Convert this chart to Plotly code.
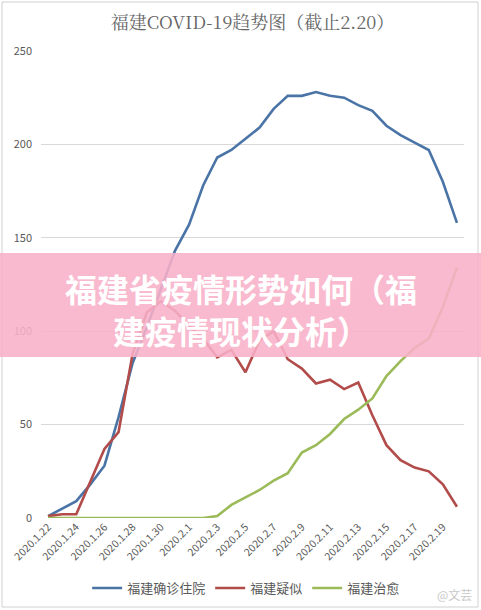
import plotly.graph_objects as go

dates = ["2020.1.22", "2020.1.23", "2020.1.24", "2020.1.25", "2020.1.26", "2020.1.27",
         "2020.1.28", "2020.1.29", "2020.1.30", "2020.1.31", "2020.2.1", "2020.2.2",
         "2020.2.3", "2020.2.4", "2020.2.5", "2020.2.6", "2020.2.7", "2020.2.8",
         "2020.2.9", "2020.2.10", "2020.2.11", "2020.2.12", "2020.2.13", "2020.2.14",
         "2020.2.15", "2020.2.16", "2020.2.17", "2020.2.18", "2020.2.19", "2020.2.20"]

hospitalized = [1, 5, 9, 18, 28, 54, 83, 102, 122, 143, 157, 178, 193, 197, 203, 209,
                219, 226, 226, 228, 226, 225, 221, 218, 210, 205, 201, 197, 180, 158]
suspected = [1, 2, 2, 20, 37, 46, 88, 110, 116, 111, 103, 96, 86, 90, 78, 95,
             100, 85, 80, 72, 74, 69, 72.5, 55, 39, 31, 27, 25, 18, 6]
cured = [0, 0, 0, 0, 0, 0, 0, 0, 0, 0, 0, 0, 1, 7, 11, 15,
         20, 24, 35, 39, 45, 53, 58, 64, 76, 84, 91, 96, 113, 134]

series_names = ["福建确诊住院", "福建疑似", "福建治愈"]
colors = ["#4A74A6", "#B24C4A", "#9BBB59"]

tick_idx = list(range(0, len(dates), 2))
tick_text = [dates[i] for i in tick_idx]

W, H = 481, 610
L, R, T, B = 41, 17, 51, 92

fig = go.Figure()
x = list(range(len(dates)))
for name, vals, c in zip(series_names, [hospitalized, suspected, cured], colors):
    fig.add_trace(go.Scatter(x=x, y=vals, mode="lines", name=name,
                             line=dict(color=c, width=2.6)))

pw = W - L - R
ph = H - T - B

shapes = [
    dict(type="rect", xref="paper", yref="paper",
         x0=(2 - L) / pw, x1=(478 - L) / pw,
         y0=(H - B - 607) / ph, y1=(H - B - 2) / ph,
         line=dict(color="#d0d0d0", width=1), fillcolor="rgba(0,0,0,0)", layer="below"),
    dict(type="rect", xref="paper", yref="paper",
         x0=(0 - L) / pw, x1=(W - L) / pw,
         y0=(H - B - 357) / ph, y1=(H - B - 253) / ph,
         line=dict(width=0), fillcolor="rgb(248,176,200)", opacity=0.88, layer="above"),
]

annotations = [
    dict(text="福建省疫情形势如何（福<br>建疫情现状分析）", xref="paper", yref="paper",
         x=(241 - L) / pw, y=(H - B - 309) / ph, showarrow=False,
         font=dict(family="Noto Sans CJK SC", size=32, color="white", weight="bold"),
         xanchor="center", yanchor="middle", align="center"),
    dict(text="@文芸", xref="paper", yref="paper",
         x=(474 - L) / pw, y=(H - B - 594) / ph, showarrow=False,
         font=dict(family="Noto Sans CJK SC", size=12, color="#c8c8c8"),
         xanchor="right", yanchor="middle"),
]

fig.update_layout(
    width=W, height=H,
    margin=dict(l=L, r=R, t=T, b=B, autoexpand=False),
    paper_bgcolor="white", plot_bgcolor="white",
    title=dict(text="福建COVID-19趋势图（截止2.20）", x=0.5, xref="paper",
               y=1 - 23 / H, yanchor="middle",
               font=dict(family="Noto Serif CJK SC, Noto Sans CJK SC", size=18, color="#666666")),
    xaxis=dict(range=[-0.5, len(dates) - 0.5], tickmode="array", tickvals=tick_idx,
               ticktext=tick_text, tickangle=-45, showgrid=False, zeroline=False,
               showline=False, ticks="", automargin=False,
               tickfont=dict(family="Noto Sans CJK SC", size=10.5, color="#595959")),
    yaxis=dict(range=[0, 250], tickvals=[0, 50, 100, 150, 200, 250],
               showgrid=True, gridcolor="#d9d9d9", gridwidth=1, zeroline=False,
               showline=False, ticks="", ticklabelstandoff=8, automargin=False,
               tickfont=dict(family="Noto Sans CJK SC", size=11, color="#595959")),
    legend=dict(orientation="h", x=0.485, xanchor="center", y=(518 - 588) / ph,
                yanchor="middle",
                font=dict(family="Noto Sans CJK SC", size=13, color="#595959")),
    shapes=shapes, annotations=annotations,
)

fig.write_html("out.html", config={"displayModeBar": False},
               post_script="document.body.style.margin='0';document.body.style.overflow='hidden';")
